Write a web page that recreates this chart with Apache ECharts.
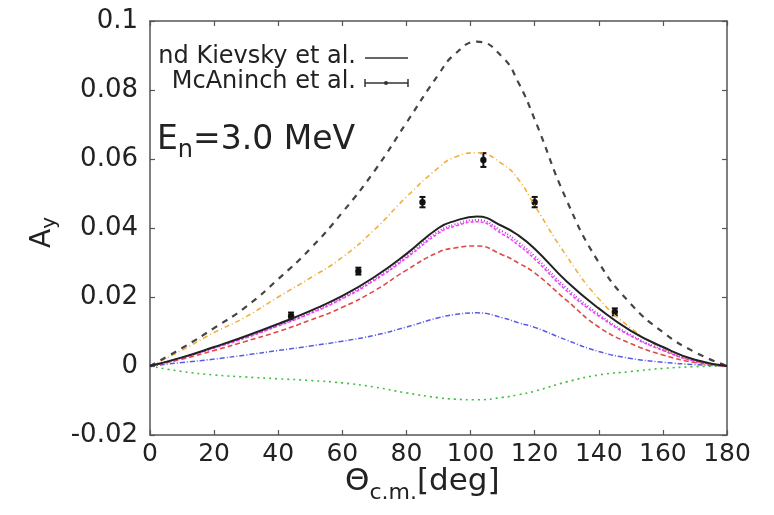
<!DOCTYPE html>
<html>
<head>
<meta charset="utf-8">
<script src="https://cdn.jsdelivr.net/npm/echarts@6/dist/echarts.min.js"></script>
<style>
  html, body { margin: 0; padding: 0; background: #fff; }
  #chart { width: 774px; height: 515px; }
</style>
</head>
<body>
<div id="chart"></div>
<script>
// углы и кривые A_y
const theta = [0, 10, 20, 30, 40, 50, 60, 70, 80, 90, 95, 102, 110, 115, 120, 130, 140, 150, 160, 170, 180];
const curveBlackDashed = [0, 0.0052, 0.011, 0.0172, 0.0252, 0.034, 0.0445, 0.0565, 0.0705, 0.0845, 0.0903, 0.094, 0.0895, 0.082, 0.0715, 0.048, 0.030, 0.018, 0.0098, 0.004, 0];
const curveOrange = [0, 0.0046, 0.0097, 0.0143, 0.020, 0.0255, 0.0315, 0.0395, 0.049, 0.0575, 0.0605, 0.0618, 0.0585, 0.054, 0.0465, 0.0318, 0.0195, 0.011, 0.005, 0.0013, 0];
const curveKievsky = [0, 0.0025, 0.0055, 0.0087, 0.0122, 0.016, 0.0203, 0.0258, 0.0325, 0.040, 0.042, 0.0433, 0.0405, 0.0378, 0.034, 0.0245, 0.0167, 0.0102, 0.0055, 0.0018, 0];
const curveViolet = [0, 0.0024, 0.0053, 0.0084, 0.0118, 0.0155, 0.0198, 0.0252, 0.0318, 0.039, 0.041, 0.0423, 0.039, 0.0358, 0.0318, 0.0225, 0.015, 0.009, 0.0047, 0.0015, 0];
const curveMagenta = [0, 0.0024, 0.0052, 0.0082, 0.0116, 0.0152, 0.0195, 0.0248, 0.0313, 0.0385, 0.0405, 0.0418, 0.0382, 0.035, 0.031, 0.0218, 0.0145, 0.0087, 0.0045, 0.0014, 0];
const curveRed = [0, 0.002, 0.0045, 0.0072, 0.010, 0.0133, 0.017, 0.0218, 0.0278, 0.033, 0.0342, 0.0348, 0.0322, 0.0298, 0.027, 0.019, 0.0113, 0.0065, 0.0032, 0.001, 0];
const curveBlue = [0, 0.001, 0.002, 0.0032, 0.0045, 0.0058, 0.0072, 0.0089, 0.0113, 0.014, 0.0149, 0.0154, 0.014, 0.0125, 0.0112, 0.0075, 0.0042, 0.0022, 0.0011, 0.0004, 0];
const curveGreen = [0, -0.0016, -0.0026, -0.0032, -0.0037, -0.0042, -0.0049, -0.0061, -0.0078, -0.0092, -0.0096, -0.0098, -0.0091, -0.0083, -0.0073, -0.0046, -0.0026, -0.0016, -0.0007, -0.0002, 0];

// эксперимент McAninch et al.
const expTheta = [44, 65, 85, 104, 120, 145];
const expAy = [0.0145, 0.0275, 0.0475, 0.0597, 0.0475, 0.0157];
const expErr = [0.001, 0.001, 0.0015, 0.002, 0.0015, 0.001];

const xTicks = [0, 20, 40, 60, 80, 100, 120, 140, 160, 180];
const yTickLabels = ['-0.02', '0', '0.02', '0.04', '0.06', '0.08', '0.1'];

const FONT = 'DejaVu Sans';
const chart = echarts.init(document.getElementById('chart'));

function pairs(ys) {
  return theta.map((t, i) => [t, ys[i]]);
}

function lineSeries(name, ys, color, type, width) {
  return {
    name: name,
    type: 'line',
    data: pairs(ys),
    smooth: 0.5,
    showSymbol: false,
    silent: true,
    lineStyle: { color: color, width: width, type: type }
  };
}

const axisLine = { onZero: false, lineStyle: { color: '#555', width: 1.5 } };
const ticksIn = { inside: true, length: 5, lineStyle: { color: '#555', width: 1.2 } };

const option = {
  backgroundColor: '#fff',
  animation: false,
  grid: { left: 150, right: 47, top: 21, bottom: 80 },
  xAxis: [
    {
      type: 'value', min: 0, max: 180, interval: 20, position: 'bottom',
      axisLine: axisLine, axisTick: ticksIn, splitLine: { show: false },
      axisLabel: { color: '#222', fontFamily: FONT, fontSize: 25, margin: 7,
        formatter: v => xTicks.includes(v) ? String(v) : '' }
    },
    {
      type: 'value', min: 0, max: 180, interval: 20, position: 'top',
      axisLine: axisLine, axisTick: ticksIn, axisLabel: { show: false }, splitLine: { show: false }
    }
  ],
  yAxis: [
    {
      type: 'value', min: -0.02, max: 0.1, interval: 0.02, position: 'left',
      axisLine: axisLine, axisTick: ticksIn, splitLine: { show: false },
      axisLabel: { color: '#222', fontFamily: FONT, fontSize: 26, margin: 12,
        formatter: (v) => yTickLabels[Math.round((v + 0.02) / 0.02)] }
    },
    {
      type: 'value', min: -0.02, max: 0.1, interval: 0.02, position: 'right',
      axisLine: axisLine, axisTick: ticksIn, axisLabel: { show: false }, splitLine: { show: false }
    }
  ],
  series: [
    lineSeries('green', curveGreen, '#3cc03c', [2, 4], 1.6),
    lineSeries('blue', curveBlue, '#5a5ae6', [5, 2, 1, 2], 1.5),
    lineSeries('red', curveRed, '#e04848', [5, 3], 1.6),
    lineSeries('orange', curveOrange, '#f0b040', [5, 3, 1, 3], 1.6),
    lineSeries('magenta', curveMagenta, '#ff3cff', [3, 2], 1.6),
    lineSeries('violet', curveViolet, '#b040e0', [1, 2], 2),
    lineSeries('black dashed', curveBlackDashed, '#444', [6, 6], 2.2),
    lineSeries('nd Kievsky et al.', curveKievsky, '#222', 'solid', 2),
    {
      name: 'McAninch et al.',
      type: 'custom',
      silent: true,
      data: expTheta.map((t, i) => [t, expAy[i], expErr[i]]),
      renderItem: function (params, api) {
        const x = api.value(0), y = api.value(1), e = api.value(2);
        const c = api.coord([x, y]);
        const lo = api.coord([x, y - e]);
        const hi = api.coord([x, y + e]);
        const st = { stroke: '#111', lineWidth: 2 };
        return {
          type: 'group',
          children: [
            { type: 'line', shape: { x1: c[0], y1: lo[1], x2: c[0], y2: hi[1] }, style: st },
            { type: 'line', shape: { x1: c[0] - 3, y1: lo[1], x2: c[0] + 3, y2: lo[1] }, style: st },
            { type: 'line', shape: { x1: c[0] - 3, y1: hi[1], x2: c[0] + 3, y2: hi[1] }, style: st },
            { type: 'circle', shape: { cx: c[0], cy: c[1], r: 3.2 }, style: { fill: '#111' } }
          ]
        };
      }
    }
  ],
  graphic: [
    // легенда
    { type: 'text', right: 774 - 356, top: 45,
      style: { text: 'nd Kievsky et al.', font: '24px "DejaVu Sans"', fill: '#222' } },
    { type: 'line', shape: { x1: 365, y1: 58, x2: 408, y2: 58 }, style: { stroke: '#333', lineWidth: 1.5 } },
    { type: 'text', right: 774 - 356, top: 70,
      style: { text: 'McAninch et al.', font: '24px "DejaVu Sans"', fill: '#222' } },
    { type: 'line', shape: { x1: 365, y1: 83, x2: 408, y2: 83 }, style: { stroke: '#333', lineWidth: 1.5 } },
    { type: 'line', shape: { x1: 365, y1: 79, x2: 365, y2: 87 }, style: { stroke: '#333', lineWidth: 1.5 } },
    { type: 'line', shape: { x1: 408, y1: 79, x2: 408, y2: 87 }, style: { stroke: '#333', lineWidth: 1.5 } },
    { type: 'circle', shape: { cx: 386, cy: 83, r: 2 }, style: { fill: '#333' } },
    // энергия
    { type: 'text', left: 157, top: 124,
      style: {
        text: '{b|E}{s|n}{b|=3.0 MeV}',
        rich: {
          b: { fontFamily: FONT, fontSize: 33, fill: '#222' },
          s: { fontFamily: FONT, fontSize: 24, fill: '#222', padding: [20, 0, 0, 0] }
        }
      } },
    // подпись оси Y
    { type: 'text', x: 26, y: 248, rotation: Math.PI / 2,
      style: {
        text: '{b|A}{s|y}',
        rich: {
          b: { fontFamily: FONT, fontSize: 28, fill: '#222' },
          s: { fontFamily: FONT, fontSize: 20, fill: '#222', padding: [14, 0, 0, 0] }
        }
      } },
    // подпись оси X
    { type: 'text', left: 345, top: 466,
      style: {
        text: '{b|Θ}{s|c.m.}{b|[deg]}',
        rich: {
          b: { fontFamily: FONT, fontSize: 31, fill: '#222' },
          s: { fontFamily: FONT, fontSize: 22, fill: '#222', padding: [24, 0, 0, 0] }
        }
      } }
  ]
};

chart.setOption(option);
</script>
</body>
</html>
